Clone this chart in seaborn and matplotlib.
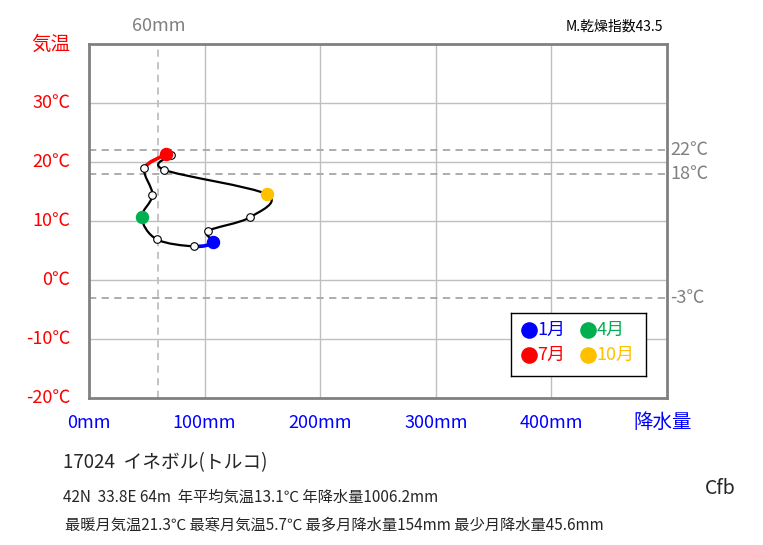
import matplotlib
matplotlib.use("Agg")
import matplotlib.pyplot as plt
import numpy as np
import seaborn as sns
from matplotlib.path import Path
from matplotlib.patches import PathPatch

sns.set_theme(style="white")
plt.rcParams["font.family"] = ["Noto Sans CJK JP", "DejaVu Sans"]

# ── Data ───────────────────────────────────────────────────────────────────
months = ["1月", "2月", "3月", "4月", "5月", "6月", "7月", "8月", "9月", "10月", "11月", "12月"]
precip = [107.4, 91.2, 58.6, 45.6, 54.9, 48.0, 67.0, 71.0, 64.7, 154.0, 139.0, 103.0]
temp = [6.4, 5.7, 6.9, 10.6, 14.4, 18.9, 21.3, 21.2, 18.7, 14.5, 10.6, 8.3]

key_months = [0, 3, 6, 9]
key_colors = ["#0000FF", "#00B050", "#FF0000", "#FFC000"]

ref_temps = [22, 18, -3]
ref_labels = ["22℃", "18℃", "-3℃"]
ref_precip = 60

x_ticks = [0, 100, 200, 300, 400]
y_ticks = [-20, -10, 0, 10, 20, 30]

FRAME = "#808080"
GRID = "#BFBFBF"


def catmull_segments(xs, ys):
    """Bezier control points for a closed Catmull-Rom curve through the points."""
    n = len(xs)
    segs = []
    for i in range(n):
        p0 = np.array([xs[i - 1], ys[i - 1]])
        p1 = np.array([xs[i], ys[i]])
        p2 = np.array([xs[(i + 1) % n], ys[(i + 1) % n]])
        p3 = np.array([xs[(i + 2) % n], ys[(i + 2) % n]])
        c1 = p1 + (p2 - p0) / 6
        c2 = p2 - (p3 - p1) / 6
        segs.append((p1, c1, c2, p2))
    return segs


def seg_path(seg):
    return Path(list(seg), [Path.MOVETO, Path.CURVE4, Path.CURVE4, Path.CURVE4])


fig = plt.figure(figsize=(7.63, 5.45), dpi=100)
ax = fig.add_axes([0.1166, 0.2697, 0.7576, 0.6496])
ax.set_xlim(0, 500)
ax.set_ylim(-20, 40)

# grid
for xv in [100, 200, 300, 400]:
    ax.axvline(xv, color=GRID, lw=1, zorder=0)
for yv in [-10, 0, 10, 20, 30]:
    ax.axhline(yv, color=GRID, lw=1, zorder=0)

# reference lines
for t in ref_temps:
    ax.axhline(t, color="#A6A6A6", lw=1.3, ls=(0, (4, 3)), zorder=1)
ax.axvline(ref_precip, color="#BFBFBF", lw=1.3, ls=(0, (4, 3)), zorder=1)

# smooth closed curve
segs = catmull_segments(precip, temp)
for i, seg in enumerate(segs):
    col = "black"
    if i == 0:
        col = "#0000FF"
    elif i == 5:
        col = "#FF0000"
    lw = 2.6 if col != "black" else 1.6
    ax.add_patch(PathPatch(seg_path(seg), facecolor="none", edgecolor=col, lw=lw, zorder=2))

# month markers
others = [i for i in range(12) if i not in key_months]
sns.scatterplot(x=[precip[i] for i in others], y=[temp[i] for i in others], ax=ax,
                s=30, color="white", edgecolor="black", linewidth=0.8, zorder=4, legend=False)
for i, c in zip(key_months, key_colors):
    ax.scatter(precip[i], temp[i], s=75, color=c, edgecolor=c, zorder=5)

# frame
for sp in ax.spines.values():
    sp.set_color(FRAME)
    sp.set_linewidth(2)
ax.set_xticks([])
ax.set_yticks([])

# tick labels
for yv in y_ticks:
    ax.text(-16, yv, f"{yv}℃", color="#FF0000", fontsize=13, ha="right", va="center",
            clip_on=False)
for xv in x_ticks:
    ax.text(xv, -24.2, f"{xv}mm", color="#0000FF", fontsize=13, ha="center", va="center",
            clip_on=False)
ax.text(-16, 40, "気温", color="#FF0000", fontsize=14, ha="right", va="center", clip_on=False)
ax.text(496, -24.2, "降水量", color="#0000FF", fontsize=14, ha="center", va="center", clip_on=False)

for t, lab in zip(ref_temps, ref_labels):
    ax.text(503, t, lab, color="#808080", fontsize=13, ha="left", va="center", clip_on=False)
ax.text(ref_precip, 43, "60mm", color="#808080", fontsize=13, ha="center", va="center", clip_on=False)
ax.text(497, 43, "M.乾燥指数43.5", color="black", fontsize=10, ha="right", va="center", clip_on=False)

# legend box
lax = fig.add_axes([511 / 763, 1 - 376 / 545, 135 / 763, 63 / 545])
lax.set_xlim(0, 1)
lax.set_ylim(0, 1)
lax.set_xticks([])
lax.set_yticks([])
for sp in lax.spines.values():
    sp.set_color("black")
    sp.set_linewidth(1)
pos = [(0.13, 0.73), (0.57, 0.73), (0.13, 0.33), (0.57, 0.33)]
for (px, py), i, c in zip(pos, key_months, key_colors):
    lax.scatter(px, py, s=120, color=c, zorder=3)
    lax.text(px + 0.065, py, months[i], color=c, fontsize=13, ha="left", va="center")

# footer text
fig.text(63 / 763, 1 - 463 / 545, "17024  イネボル(トルコ)", fontsize=13.5, ha="left", va="center")
fig.text(63 / 763, 1 - 497 / 545, "42N  33.8E 64m  年平均気温13.1℃ 年降水量1006.2mm",
         fontsize=11, ha="left", va="center")
fig.text(65 / 763, 1 - 525 / 545, "最暖月気温21.3℃ 最寒月気温5.7℃ 最多月降水量154mm 最少月降水量45.6mm",
         fontsize=11, ha="left", va="center")
fig.text(720 / 763, 1 - 489 / 545, "Cfb", fontsize=14, ha="center", va="center")

fig.savefig("out.png", dpi=100, facecolor="white")
